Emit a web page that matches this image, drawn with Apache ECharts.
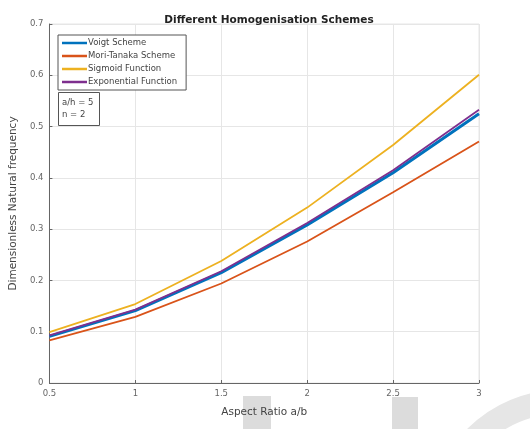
<!DOCTYPE html>
<html>
<head>
<meta charset="utf-8">
<script src="https://cdn.jsdelivr.net/npm/echarts@6/dist/echarts.min.js"></script>
<style>
    html, body { margin: 0; padding: 0; background: #ffffff; }
    #main { width: 530px; height: 429px; }
</style>
</head>
<body>
<div id="main"></div>
<script>
// aspect ratio a/b
var aspectRatio = [0.5, 1, 1.5, 2, 2.5, 3];
var voigt = [0.091, 0.141, 0.215, 0.308, 0.410, 0.525];
var moriTanaka = [0.083, 0.129, 0.194, 0.276, 0.372, 0.471];
var sigmoid = [0.099, 0.154, 0.238, 0.342, 0.464, 0.601];
var exponential = [0.093, 0.143, 0.218, 0.312, 0.415, 0.533];
var seriesNames = ['Voigt Scheme', 'Mori-Tanaka Scheme', 'Sigmoid Function', 'Exponential Function'];
var xTicks = [0.5, 1, 1.5, 2, 2.5, 3];
var yTicks = [0, 0.1, 0.2, 0.3, 0.4, 0.5, 0.6, 0.7];

var colors = ['#0072BD', '#D95319', '#EDB120', '#7E2F8E'];
var font = '"DejaVu Sans", Verdana, sans-serif';

function pairs(ys) {
    return aspectRatio.map(function (x, i) { return [x, ys[i]]; });
}

var chart = echarts.init(document.getElementById('main'));

var option = {
    animation: false,
    backgroundColor: '#ffffff',
    title: {
        text: 'Different Homogenisation Schemes',
        left: 264,
        textAlign: 'center',
        top: 10,
        textStyle: { fontFamily: font, fontSize: 10.5, fontWeight: 'bold', color: '#222' }
    },
    grid: { left: 48, right: 51, top: 24, bottom: 46, show: true, borderColor: '#e6e6e6', borderWidth: 1 },
    legend: {
        left: 58,
        top: 35,
        orient: 'vertical',
        itemWidth: 25,
        itemHeight: 2.5,
        itemGap: 3,
        padding: [3, 9, 3, 4],
        borderColor: '#555',
        borderWidth: 1,
        backgroundColor: '#ffffff',
        icon: 'rect',
        data: seriesNames,
        textStyle: { fontFamily: font, fontSize: 8.5, lineHeight: 10, color: '#444', padding: [0, 0, 0, -4] }
    },
    xAxis: {
        type: 'value',
        min: 0.5,
        max: 3,
        interval: 0.5,
        name: 'Aspect Ratio a/b',
        nameLocation: 'middle',
        nameGap: 24,
        nameTextStyle: { fontFamily: font, fontSize: 10.5, color: '#444' },
        axisLine: { lineStyle: { color: '#666', width: 1 } },
        axisTick: { inside: true, length: 3, lineStyle: { color: '#666' } },
        axisLabel: {
            fontFamily: font, fontSize: 8.5, color: '#666', margin: 6,
            formatter: function (v) { return xTicks.indexOf(v) >= 0 ? String(v) : ''; }
        },
        splitLine: { show: true, lineStyle: { color: '#e6e6e6', width: 1 } }
    },
    yAxis: {
        type: 'value',
        min: 0,
        max: 0.7,
        interval: 0.1,
        name: 'Dimensionless Natural frequency',
        nameLocation: 'middle',
        nameGap: 30,
        nameTextStyle: { fontFamily: font, fontSize: 10.5, color: '#444' },
        axisLine: { show: true, lineStyle: { color: '#666', width: 1 } },
        axisTick: { show: true, inside: true, length: 3, lineStyle: { color: '#666' } },
        axisLabel: {
            fontFamily: font, fontSize: 8.5, color: '#666', margin: 6,
            formatter: function (v) {
                var r = Math.round(v * 10) / 10;
                return yTicks.indexOf(r) >= 0 ? String(r) : '';
            }
        },
        splitLine: { show: true, lineStyle: { color: '#e6e6e6', width: 1 } }
    },
    series: [
        { name: seriesNames[0], type: 'line', data: pairs(voigt), symbol: 'none', lineStyle: { width: 3, color: colors[0] }, itemStyle: { color: colors[0] } },
        { name: seriesNames[1], type: 'line', data: pairs(moriTanaka), symbol: 'none', lineStyle: { width: 1.8, color: colors[1] }, itemStyle: { color: colors[1] } },
        { name: seriesNames[2], type: 'line', data: pairs(sigmoid), symbol: 'none', lineStyle: { width: 1.8, color: colors[2] }, itemStyle: { color: colors[2] } },
        { name: seriesNames[3], type: 'line', data: pairs(exponential), symbol: 'none', lineStyle: { width: 1.8, color: colors[3] }, itemStyle: { color: colors[3] } }
    ],
    graphic: [
        // a/h, n annotation box
        {
            type: 'rect', left: 58, top: 92, z: 100,
            shape: { width: 41, height: 33 },
            style: { fill: '#ffffff', stroke: '#555', lineWidth: 1 }
        },
        {
            type: 'text', left: 62, top: 97, z: 101,
            style: { text: 'a/h = 5\nn = 2', font: '8.5px ' + font, fill: '#444', lineHeight: 12 }
        },
        // faint watermark shapes
        { type: 'rect', left: 243, top: 396, z: -1, shape: { width: 28, height: 33 }, style: { fill: '#dcdcdc' } },
        { type: 'rect', left: 392, top: 397, z: -1, shape: { width: 26, height: 32 }, style: { fill: '#dcdcdc' } },
        { type: 'ring', z: -1, shape: { cx: 560, cy: 520, r: 130, r0: 106 }, style: { fill: '#e6e6e6' } }
    ]
};

chart.setOption(option);
</script>
</body>
</html>
